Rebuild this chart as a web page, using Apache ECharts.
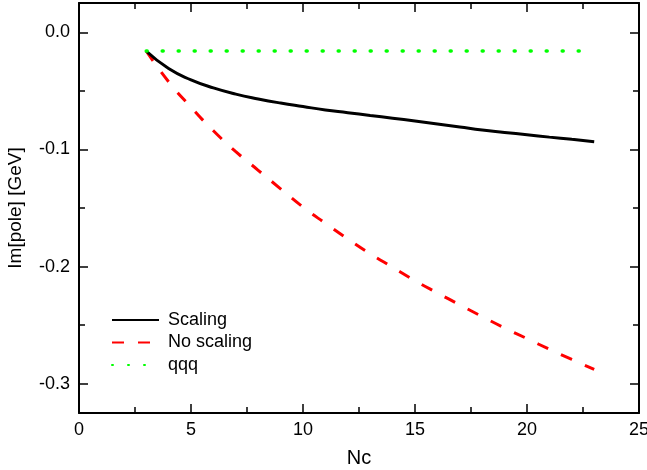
<!DOCTYPE html>
<html>
<head>
<meta charset="utf-8">
<script src="https://cdn.jsdelivr.net/npm/echarts@6/dist/echarts.min.js"></script>
<style>
  html, body { margin: 0; padding: 0; background: #fff; }
  #main { width: 647px; height: 470px; }
</style>
</head>
<body>
<div id="main"></div>
<script>
// data
var nc = [3, 4, 5, 6, 7, 8, 9, 10, 11, 12, 13, 14, 15, 16, 17, 18, 19, 20, 21, 22, 23];
var scaling = [-0.016, -0.031, -0.0406, -0.0475, -0.0528, -0.0569, -0.0604, -0.0634, -0.0663, -0.0686, -0.071,
  -0.0733, -0.0757, -0.0783, -0.0809, -0.0835, -0.0855, -0.0875, -0.0895, -0.0914, -0.0934];
var noScaling = [-0.016, -0.0422, -0.0639, -0.0841, -0.1019, -0.1178, -0.1336, -0.1492, -0.1631, -0.1764, -0.189,
  -0.2006, -0.212, -0.2225, -0.2327, -0.2427, -0.2524, -0.2615, -0.2706, -0.2793, -0.2878];
var qqq = [-0.016, -0.016, -0.016, -0.016, -0.016, -0.016, -0.016, -0.016, -0.016, -0.016, -0.016,
  -0.016, -0.016, -0.016, -0.016, -0.016, -0.016, -0.016, -0.016, -0.016, -0.016];
var yMajor = [-0.3, -0.2, -0.1, 0];
var yMinor = [-0.25, -0.15, -0.05];

function pairs(ys) {
  return nc.map(function (x, i) { return [x, ys[i]]; });
}

var font = 'Liberation Sans, Arial, sans-serif';
var black = '#000';

var myChart = echarts.init(document.getElementById('main'));

function xAx(pos, showLabel) {
  return {
    type: 'value', position: pos, min: 0, max: 25, interval: 5,
    axisLine: { show: true, onZero: false, lineStyle: { color: black, width: 2 } },
    axisTick: { show: true, inside: true, length: 9, lineStyle: { color: black, width: 1.5 } },
    minorTick: { show: true, splitNumber: 2, length: 6, lineStyle: { color: black, width: 1.5 } },
    axisLabel: { show: showLabel, margin: 8, color: black, fontSize: 18, fontFamily: font },
    splitLine: { show: false }
  };
}

function yAx(pos, vals, len, showLine, showLabel) {
  return {
    type: 'value', position: pos, min: -0.325, max: 0.025,
    axisLine: { show: showLine, onZero: false, lineStyle: { color: black, width: 2 } },
    axisTick: { show: true, inside: true, length: len, customValues: vals, lineStyle: { color: black, width: 1.5 } },
    axisLabel: {
      show: showLabel, customValues: vals, margin: 9, color: black, fontSize: 18, fontFamily: font,
      formatter: function (v) { return (+v).toFixed(1); }
    },
    splitLine: { show: false }
  };
}

var xBottom = xAx('bottom', true);
xBottom.name = 'Nc';
xBottom.nameLocation = 'middle';
xBottom.nameGap = 35;
xBottom.nameTextStyle = { color: black, fontSize: 20, fontFamily: font };

var yLeft = yAx('left', yMajor, 9, true, true);
yLeft.name = 'Im[pole] [GeV]';
yLeft.nameLocation = 'middle';
yLeft.nameGap = 54;
yLeft.nameTextStyle = { color: black, fontSize: 19, fontFamily: font };

var option = {
  backgroundColor: '#fff',
  animation: false,
  grid: { left: 79, right: 8, top: 3, bottom: 57, containLabel: false, outerBoundsMode: 'none' },
  legend: {
    orient: 'vertical', left: 111, top: 310, padding: 0,
    itemWidth: 47, itemHeight: 14, itemGap: 2.5,
    itemStyle: { opacity: 0 },
    textStyle: { color: black, fontSize: 18, lineHeight: 20, fontFamily: font, padding: [0, 0, 0, 4] },
    data: ['Scaling', 'No scaling', 'qqq']
  },
  xAxis: [xBottom, xAx('top', false)],
  yAxis: [
    yLeft,
    yAx('right', yMajor, 9, true, false),
    yAx('left', yMinor, 6, false, false),
    yAx('right', yMinor, 6, false, false)
  ],
  series: [
    {
      name: 'Scaling', type: 'line', data: pairs(scaling), smooth: true,
      symbol: 'none', z: 3,
      lineStyle: { color: black, width: 3 }, itemStyle: { color: black }
    },
    {
      name: 'No scaling', type: 'line', data: pairs(noScaling), smooth: true,
      symbol: 'none', z: 2,
      lineStyle: { color: '#ff0000', width: 3, type: [12, 14] }, itemStyle: { color: '#ff0000' }
    },
    {
      name: 'qqq', type: 'line', data: pairs(qqq),
      symbol: 'none', z: 4,
      lineStyle: { color: '#00ff00', width: 3.5, type: [1, 15], cap: 'round' }, itemStyle: { color: '#00ff00' }
    }
  ]
};

myChart.setOption(option);
</script>
</body>
</html>
